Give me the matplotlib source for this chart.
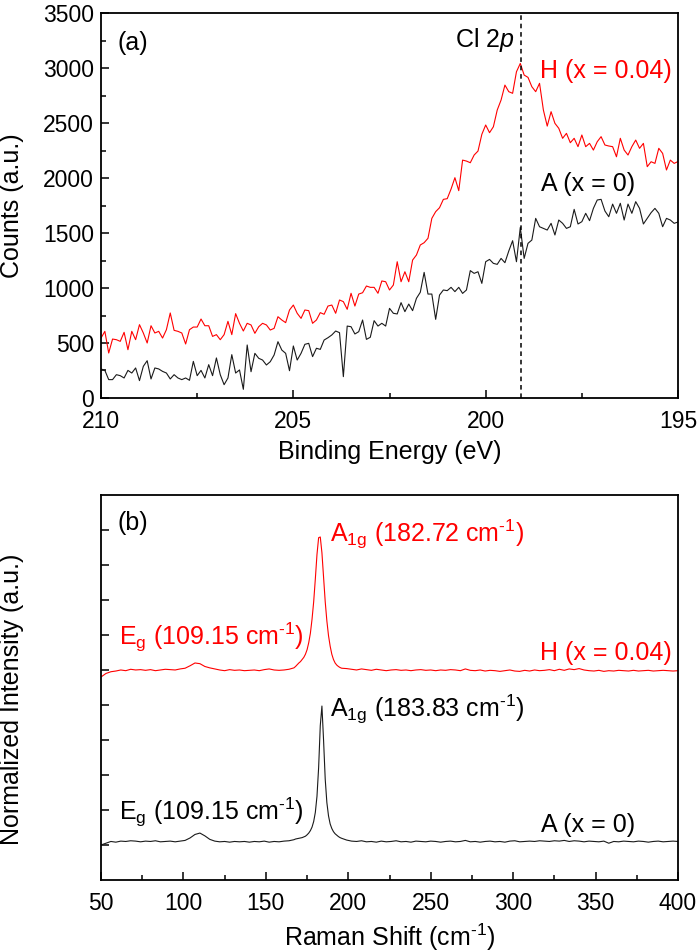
import numpy as np
import matplotlib
matplotlib.use('Agg')
import matplotlib.pyplot as plt
from matplotlib.ticker import MultipleLocator, NullFormatter

plt.rcParams['font.family'] = ['Liberation Sans', 'DejaVu Sans']
plt.rcParams['mathtext.fontset'] = 'custom'
plt.rcParams['mathtext.rm'] = 'Liberation Sans'
plt.rcParams['mathtext.it'] = 'Liberation Sans:italic'

# ---- (a) XPS Cl 2p, binding energy 210 -> 195 eV in 0.1 eV steps
energy = np.linspace(210.0, 195.0, 151)

counts_H = [
    545, 606, 409, 536, 530, 515, 597, 439, 606, 530,
    667, 591, 500, 657, 591, 606, 545, 621, 773, 615,
    606, 591, 491, 621, 645, 645, 718, 657, 657, 560,
    576, 530, 576, 697, 576, 767,
    679, 609, 679, 664, 588, 648, 679, 664, 618, 633,
    739, 709, 685, 800, 845, 770, 724, 800, 794, 679,
    709, 776, 761, 836, 845, 770, 891, 876, 806, 952,
    836, 945, 957, 1018, 1006, 1006, 952, 1064,
    1057, 982, 1027, 1239, 1057, 1148, 1057, 1254, 1300, 1391,
    1412, 1452, 1633, 1694, 1730, 1806, 1812, 1900, 2003, 1885,
    2163, 2154, 2139, 2209, 2245, 2397, 2482, 2412, 2466, 2618,
    2709, 2845, 2785, 2770, 2966, 3042, 2936, 2915, 2830,
    2785, 2861, 2618, 2472, 2603, 2497, 2452, 2361, 2406, 2321,
    2361, 2285, 2391, 2285, 2315, 2254, 2330, 2376, 2300, 2291,
    2285, 2193, 2361, 2254, 2209, 2285, 2345, 2270, 2315, 2103,
    2148, 2133, 2270, 2224, 2073, 2163, 2133, 2150,
]

counts_A = [
    264, 251, 167, 167, 212, 203, 182, 251, 227, 273,
    158, 288, 339, 173, 273, 264, 242, 227, 173, 212,
    182, 167, 182, 161, 333, 203, 251, 182, 303, 203,
    364, 212, 121, 182, 394, 227,
    255, 79, 482, 239, 406, 361, 345, 300, 330, 391,
    512, 436, 406, 248, 473, 345, 406, 488, 497, 376,
    452, 442, 527, 548, 573, 609, 594, 194, 654, 648,
    582, 603, 709, 533, 552, 703, 654,
    679, 654, 815, 770, 764, 867, 785, 854, 794, 906,
    961, 1142, 945, 945, 715, 936, 982, 976, 1006, 967,
    1006, 951, 982, 1158, 1133, 1148, 1042, 1239, 1260, 1224,
    1215, 1269, 1230, 1336, 1430, 1239, 1551, 1269, 1406, 1436,
    1633, 1557, 1542, 1527, 1588, 1482, 1618, 1588, 1542, 1557,
    1715, 1582, 1603, 1679, 1612, 1724, 1800, 1806, 1700, 1648,
    1763, 1679, 1770, 1618, 1763, 1679, 1785, 1724, 1582, 1633,
    1685, 1724, 1679, 1557, 1633, 1618, 1588, 1600,
]

cl2p_position = 199.07

# ---- (b) Raman spectra
raman_shift = np.r_[50:168:3, 168:197, 199:401:3]

intensity_H = [
    # 50 .. 167 (step 3)
    5.80, 5.90, 5.95, 5.97, 6.00, 5.98, 6.02, 6.00, 6.01, 5.99,
    6.01, 5.98, 6.00, 6.02, 6.01, 6.00, 6.03, 6.05, 6.12, 6.20,
    6.18, 6.10, 6.06, 6.03, 6.00, 5.98, 6.01, 5.99, 6.00, 5.98,
    5.99, 6.00, 5.98, 6.01, 6.03, 6.00, 5.99, 6.00, 6.02, 6.06,
    # 168 .. 196 (step 1)
    6.10, 6.15, 6.20, 6.24, 6.30, 6.36, 6.45, 6.58, 6.78, 7.05,
    7.45, 7.95, 8.60, 9.30, 9.78, 9.80, 9.35, 8.65, 7.95, 7.40,
    6.98, 6.68, 6.45, 6.30, 6.20, 6.14, 6.10, 6.07, 6.05,
    # 199 .. 400 (step 3)
    6.04, 6.02, 6.00, 6.03, 6.01, 5.99, 6.02, 6.00, 5.98, 6.00,
    6.01, 5.99, 6.00, 5.98, 6.00, 6.01, 5.99, 6.00, 5.98, 6.00,
    5.99, 6.01, 6.00, 5.98, 6.03, 5.99, 5.98, 6.00, 5.97, 5.99,
    5.98, 5.96, 5.98, 6.00, 5.97, 5.96, 5.99, 5.97, 6.00, 5.98,
    5.99, 6.01, 5.98, 6.02, 5.99, 6.03, 6.01, 6.04, 6.00, 5.98,
    5.97, 5.99, 5.96, 5.98, 5.97, 5.99, 5.98, 5.97, 5.99, 5.97,
    5.98, 5.99, 5.97, 5.98, 5.99, 5.98, 5.97, 5.98,
]

intensity_A = [
    1.00, 1.05, 1.10, 1.08, 1.11, 1.10, 1.12, 1.11, 1.09, 1.11,
    1.10, 1.12, 1.09, 1.10, 1.11, 1.09, 1.11, 1.13, 1.20, 1.30,
    1.34, 1.26, 1.16, 1.11, 1.09, 1.10, 1.08, 1.10, 1.09, 1.10,
    1.08, 1.10, 1.09, 1.11, 1.08, 1.10, 1.09, 1.11, 1.12, 1.15,
    1.17, 1.18, 1.19, 1.20, 1.21, 1.23, 1.25, 1.29, 1.34, 1.41,
    1.51, 1.67, 1.93, 2.39, 3.21, 4.41, 4.97, 3.99, 2.88, 2.21,
    1.83, 1.60, 1.47, 1.38, 1.32, 1.28, 1.24, 1.21, 1.19,
    1.14, 1.11, 1.10, 1.12, 1.09, 1.10, 1.08, 1.11, 1.09, 1.10,
    1.12, 1.09, 1.10, 1.08, 1.11, 1.10, 1.09, 1.11, 1.10, 1.08,
    1.10, 1.11, 1.09, 1.10, 1.13, 1.09, 1.10, 1.08, 1.10, 1.11,
    1.09, 1.10, 1.08, 1.11, 1.12, 1.09, 1.10, 1.11, 1.10, 1.12,
    1.11, 1.10, 1.12, 1.11, 1.13, 1.10, 1.12, 1.11, 1.09, 1.11,
    1.10, 1.09, 1.11, 1.05, 1.10, 1.09, 1.11, 1.10, 1.09, 1.11,
    1.10, 1.08, 1.10, 1.11, 1.09, 1.10, 1.11, 1.10,
]

RED = '#ff0000'
INV_CM = r'cm$^{\text{-1}}$'


def style_axes(ax):
    for s in ax.spines.values():
        s.set_linewidth(1.3)
    ax.tick_params(which='both', direction='in', width=1.1, labelsize=16.5)
    ax.tick_params(which='major', length=5.5)
    ax.tick_params(which='minor', length=3.5)
    ax.tick_params(axis='x', pad=9)
    ax.tick_params(axis='y', pad=5)


fig = plt.figure(figsize=(7.0, 9.51), dpi=100)

# ---------------- panel (a)
ax1 = fig.add_axes([0.1443, 0.5815, 0.8243, 0.4048])
ax1.plot(energy, counts_H, color=RED, lw=0.8)
ax1.plot(energy, counts_A, color='#1a1a1a', lw=0.8)
ax1.axvline(cl2p_position, color='black', ls=(0, (3, 2.5)), lw=1.1)
ax1.set_xlim(210, 195)
ax1.set_ylim(0, 3500)
ax1.xaxis.set_major_locator(MultipleLocator(5))
ax1.xaxis.set_minor_locator(MultipleLocator(2.5))
ax1.yaxis.set_major_locator(MultipleLocator(500))
ax1.yaxis.set_minor_locator(MultipleLocator(250))
style_axes(ax1)
ax1.set_xlabel('Binding Energy (eV)', fontsize=18)
ax1.set_ylabel('Counts (a.u.)', fontsize=18)
ax1.xaxis.set_label_coords(0.5, -0.108)
ax1.yaxis.set_label_coords(-0.133, 0.5)

ax1.text(209.58, 3163, '(a)', fontsize=18)
ax1.text(199.24, 3190, r'Cl 2$\it{p}$', fontsize=18, ha='right')
ax1.text(198.59, 2909, 'H (x = 0.04)', fontsize=18, color=RED)
ax1.text(198.56, 1882, 'A (x = 0)', fontsize=18)

# ---------------- panel (b)
ax2 = fig.add_axes([0.1443, 0.0747, 0.8243, 0.4048])
ax2.plot(raman_shift, intensity_H, color=RED, lw=0.8)
ax2.plot(raman_shift, intensity_A, color='#1a1a1a', lw=0.8)
ax2.set_xlim(50, 400)
ax2.set_ylim(0, 11)
ax2.xaxis.set_major_locator(MultipleLocator(50))
ax2.xaxis.set_minor_locator(MultipleLocator(25))
ax2.set_yticks([1, 2, 3, 4, 5, 6, 7, 8, 9, 10])
ax2.yaxis.set_major_formatter(NullFormatter())
style_axes(ax2)
ax2.set_xlabel('Raman Shift (' + INV_CM + ')', fontsize=18)
ax2.set_ylabel('Normalized Intensity (a.u.)', fontsize=18)
ax2.xaxis.set_label_coords(0.5, -0.108)
ax2.yaxis.set_label_coords(-0.133, 0.47)

ax2.text(59.7, 10.0, '(b)', fontsize=18)
ax2.text(188.9, 9.66, r'A$_{\rm 1g}$ (182.72 ' + INV_CM + ')', fontsize=18, color=RED)
ax2.text(60.9, 6.71, r'E$_{\rm g}$ (109.15 ' + INV_CM + ')', fontsize=18, color=RED)
ax2.text(316.2, 6.29, 'H (x = 0.04)', fontsize=18, color=RED)
ax2.text(188.9, 4.66, r'A$_{\rm 1g}$ (183.83 ' + INV_CM + ')', fontsize=18)
ax2.text(60.9, 1.71, r'E$_{\rm g}$ (109.15 ' + INV_CM + ')', fontsize=18)
ax2.text(316.8, 1.37, 'A (x = 0)', fontsize=18)

fig.savefig('out.png', dpi=100)
